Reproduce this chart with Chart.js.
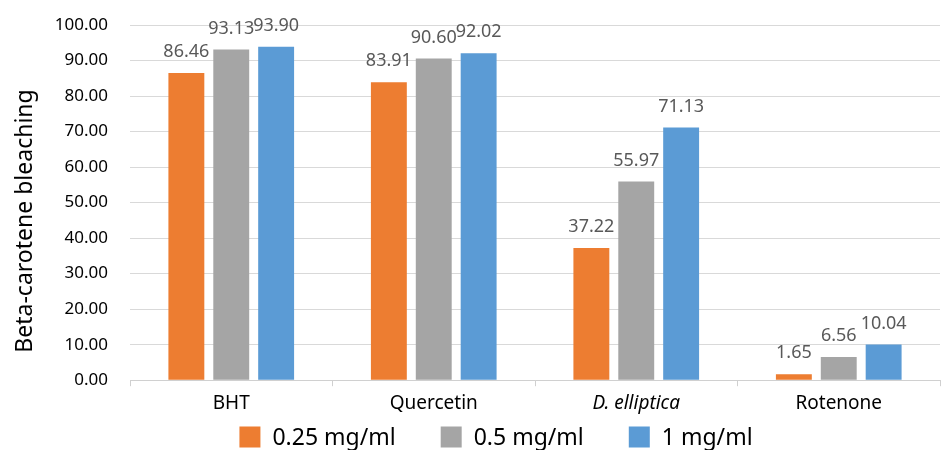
<!DOCTYPE html>
<html>
<head>
<meta charset="utf-8">
<script src="https://cdn.jsdelivr.net/npm/chart.js@4/dist/chart.umd.min.js"></script>
<style>
  html, body { margin: 0; padding: 0; background: #ffffff; }
  #wrap { width: 942px; height: 450px; }
</style>
</head>
<body>
<div id="wrap"><canvas id="c" width="942" height="450"></canvas></div>
<script>
// Samples tested and the three concentrations
const categories = ['BHT', 'Quercetin', 'D. elliptica', 'Rotenone'];
const seriesNames = ['0.25 mg/ml', '0.5 mg/ml', '1 mg/ml'];
const conc025 = [86.46, 83.91, 37.22, 1.65];
const conc05  = [93.13, 90.60, 55.97, 6.56];
const conc1   = [93.90, 92.02, 71.13, 10.04];
const yTicks  = [0, 10, 20, 30, 40, 50, 60, 70, 80, 90, 100];
const yTitle  = 'Beta-carotene bleaching';

const colors = ['#ED7D31', '#A5A5A5', '#5B9BD5'];
const FONT = '"Noto Sans", "Open Sans", sans-serif';

// Value labels above every bar
const valueLabels = {
  id: 'valueLabels',
  afterDatasetsDraw(chart) {
    const ctx = chart.ctx;
    ctx.save();
    ctx.font = '18px ' + FONT;
    ctx.fillStyle = '#595959';
    ctx.textAlign = 'center';
    ctx.textBaseline = 'middle';
    chart.data.datasets.forEach((ds, i) => {
      chart.getDatasetMeta(i).data.forEach((bar, j) => {
        ctx.fillText(ds.data[j].toFixed(2), bar.x, bar.y - 21);
      });
    });
    ctx.restore();
  }
};

// Rotated y-axis title and the legend row under the axis
const extras = {
  id: 'extras',
  afterDraw(chart) {
    const ctx = chart.ctx;
    ctx.save();
    ctx.fillStyle = '#000000';
    ctx.font = '23px ' + FONT;
    ctx.textAlign = 'center';
    ctx.textBaseline = 'middle';
    ctx.translate(25, 221);
    ctx.rotate(-Math.PI / 2);
    ctx.fillText(yTitle, 0, 0);
    ctx.restore();

    ctx.save();
    ctx.font = '23px ' + FONT;
    ctx.textBaseline = 'middle';
    ctx.textAlign = 'left';
    const box = 21, gapBox = 12, gapItem = 45, cy = 437;
    const widths = chart.data.datasets.map(ds => ctx.measureText(ds.label).width);
    const total = widths.reduce((a, w) => a + box + gapBox + w, 0) + gapItem * (widths.length - 1);
    let x = 496 - total / 2;
    chart.data.datasets.forEach((ds, i) => {
      ctx.fillStyle = ds.backgroundColor;
      ctx.fillRect(x, cy - box / 2, box, box);
      ctx.fillStyle = '#000000';
      ctx.fillText(ds.label, x + box + gapBox, cy + 1);
      x += box + gapBox + widths[i] + gapItem;
    });
    ctx.restore();
  }
};

new Chart(document.getElementById('c'), {
  type: 'bar',
  data: {
    labels: categories,
    datasets: [conc025, conc05, conc1].map((vals, i) => ({
      label: seriesNames[i],
      data: vals,
      backgroundColor: colors[i],
      borderWidth: 0,
      categoryPercentage: 0.665,
      barPercentage: 0.8
    }))
  },
  options: {
    responsive: false,
    animation: false,
    layout: { padding: { top: 25, right: 2, bottom: 29, left: 0 } },
    plugins: {
      legend: { display: false },
      tooltip: { enabled: false }
    },
    scales: {
      x: {
        grid: { offset: true, drawOnChartArea: false, drawTicks: true, tickLength: 6, color: '#d0d0d0' },
        border: { color: '#d0d0d0' },
        ticks: {
          color: '#000000',
          padding: 6,
          font: (c) => ({ family: FONT, size: 19, style: c.index === 2 ? 'italic' : 'normal' })
        }
      },
      y: {
        min: 0,
        max: 100,
        afterFit(scale) {
          scale.width = 130;
          scale.paddingTop = 10;
          scale.paddingBottom = 10;
        },
        afterBuildTicks(scale) { scale.ticks = yTicks.map(v => ({ value: v })); },
        grid: { color: '#d9d9d9', drawTicks: false },
        border: { display: false },
        ticks: {
          color: '#000000',
          padding: 22,
          font: { family: FONT, size: 17 },
          callback: (v) => Number(v).toFixed(2)
        }
      }
    }
  },
  plugins: [valueLabels, extras]
});
</script>
</body>
</html>
